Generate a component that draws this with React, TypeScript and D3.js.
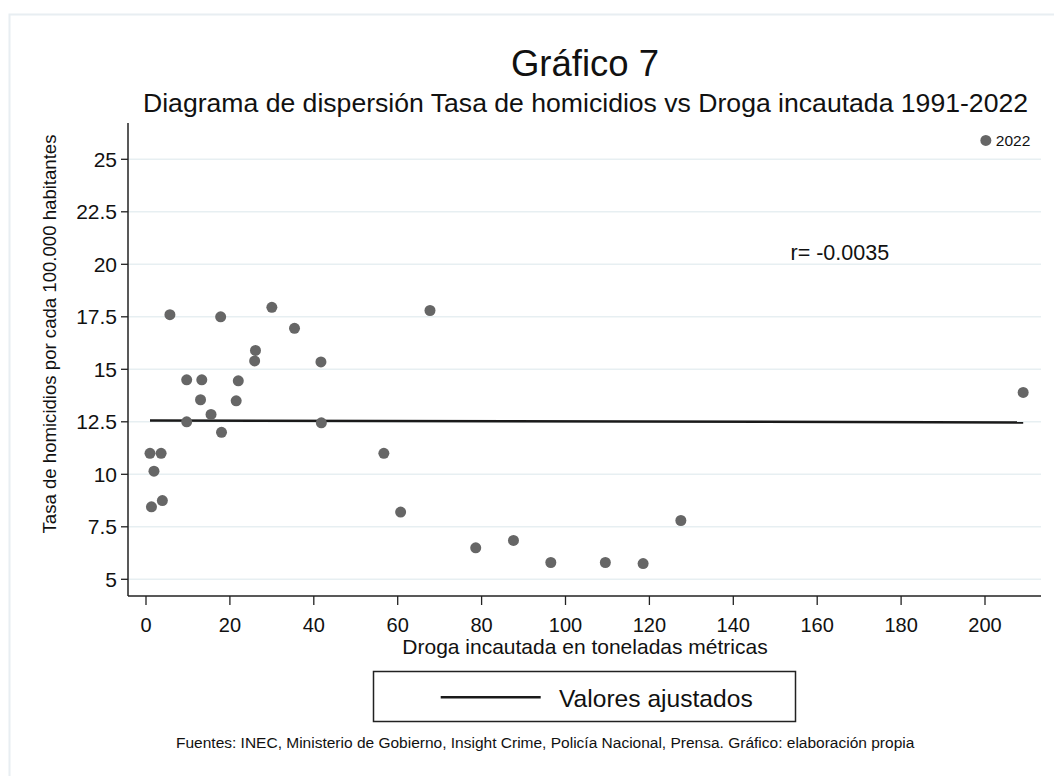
import React from "react";
import * as d3 from "d3";

const drugTons = [0.95, 3.6, 1.9, 1.3, 3.9, 5.7, 9.7, 13.3, 13.0, 15.5, 9.7, 18.0, 17.8, 22.0, 21.5, 26.1, 25.9, 30.0, 35.4, 41.7, 41.8, 56.7, 60.7, 67.7, 78.6, 87.6, 96.5, 109.5, 118.5, 127.5, 209.1, 200.2];
const homicideRate = [11.0, 11.0, 10.15, 8.45, 8.75, 17.6, 14.5, 14.5, 13.55, 12.85, 12.5, 12.0, 17.5, 14.45, 13.5, 15.9, 15.4, 17.95, 16.95, 15.35, 12.45, 11.0, 8.2, 17.8, 6.5, 6.85, 5.8, 5.8, 5.75, 7.8, 13.9, 25.9];
const pointLabels = ["", "", "", "", "", "", "", "", "", "", "", "", "", "", "", "", "", "", "", "", "", "", "", "", "", "", "", "", "", "", "", "2022"];
const fitX = [0.95, 209.1];
const fitY = [12.56, 12.47];
const xTicks = [0, 20, 40, 60, 80, 100, 120, 140, 160, 180, 200];
const yTicks = [5, 7.5, 10, 12.5, 15, 17.5, 20, 22.5, 25];

const title = "Gráfico 7";
const subtitle = "Diagrama de dispersión Tasa de homicidios vs Droga incautada 1991-2022";
const xTitle = "Droga incautada en toneladas métricas";
const yTitle = "Tasa de homicidios por cada 100.000 habitantes";
const legendLabel = "Valores ajustados";
const rLabel = "r= -0.0035";
const footnote = "Fuentes: INEC, Ministerio de Gobierno, Insight Crime, Policía Nacional, Prensa. Gráfico: elaboración propia";

export default function App() {
  const W = 1054, H = 776;
  const left = 128, right = 1041, top = 123, bottom = 596;
  const x = d3.scaleLinear().domain([0, 200]).range([146, 985]);
  const y = d3.scaleLinear().domain([5, 25]).range([579.3, 159.3]);
  const line = d3.line<number>().x((d) => x(fitX[d])).y((d) => y(fitY[d]));
  const font = "Liberation Sans, Arial, sans-serif";
  const gridColor = "#e7eff2";
  return (
    <svg width={W} height={H} style={{ position: "absolute", left: 0, top: 0, background: "#fff" }} fontFamily={font}>
      <rect x={0} y={0} width={W} height={H} fill="#fff" />
      <rect x={9.5} y={14.5} width={1100} height={800} fill="#fff" stroke="#e8eef2" strokeWidth={2} />
      <text x={585} y={76} textAnchor="middle" fontSize={36.5} fill="#111">{title}</text>
      <text x={585.5} y={112} textAnchor="middle" fontSize={26.6} fill="#111">{subtitle}</text>
      {yTicks.map((t) => (
        <g key={"gy" + t}>
          <line x1={left} x2={right} y1={y(t)} y2={y(t)} stroke={gridColor} strokeWidth={1.5} />
          <line x1={left - 7} x2={left} y1={y(t)} y2={y(t)} stroke="#222" strokeWidth={1.3} />
          <text x={117} y={y(t)} dy="0.36em" textAnchor="end" fontSize={21} fill="#111">{String(t)}</text>
        </g>
      ))}
      {xTicks.map((t) => (
        <g key={"gx" + t}>
          <line x1={x(t)} x2={x(t)} y1={bottom} y2={bottom + 9} stroke="#222" strokeWidth={1.3} />
          <text x={x(t)} y={632} textAnchor="middle" fontSize={20} fill="#111">{String(t)}</text>
        </g>
      ))}
      <line x1={left} x2={left} y1={top} y2={bottom} stroke="#222" strokeWidth={1.5} />
      <line x1={left} x2={right} y1={bottom} y2={bottom} stroke="#222" strokeWidth={1.5} />
      <path d={line([0, 1]) || ""} stroke="#1a1a1a" strokeWidth={2.5} fill="none" />
      {drugTons.map((d, i) => (
        <g key={"p" + i}>
          <circle cx={x(d)} cy={y(homicideRate[i])} r={5.5} fill="#666" />
          {pointLabels[i] ? (
            <text x={x(d) + 10} y={y(homicideRate[i])} dy="0.36em" fontSize={15.5} fill="#111">{pointLabels[i]}</text>
          ) : null}
        </g>
      ))}
      <text x={790.5} y={260} fontSize={21.5} fill="#111">{rLabel}</text>
      <text x={585} y={654} textAnchor="middle" fontSize={21} fill="#111">{xTitle}</text>
      <text transform={`translate(56,334) rotate(-90)`} textAnchor="middle" fontSize={18.6} fill="#111">{yTitle}</text>
      <rect x={373.5} y={671.5} width={422} height={50} fill="#fff" stroke="#222" strokeWidth={1.5} />
      <line x1={440.7} x2={540.7} y1={697.3} y2={697.3} stroke="#1a1a1a" strokeWidth={2.5} />
      <text x={559} y={706.5} fontSize={24.6} fill="#111">{legendLabel}</text>
      <text x={176} y={748} fontSize={15.5} fill="#111">{footnote}</text>
    </svg>
  );
}
